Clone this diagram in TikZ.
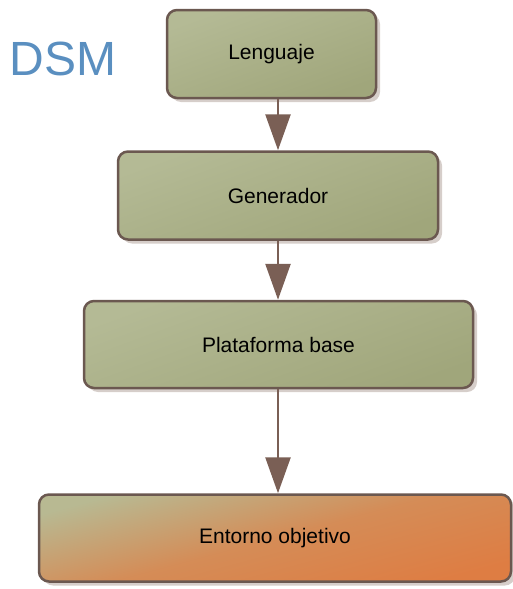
\documentclass[tikz,border=0pt]{standalone}
\usepackage{fontspec}
\setmainfont{Liberation Sans}
\usetikzlibrary{arrows.meta,positioning,shadows}

\definecolor{greenlight}{HTML}{B4BA95}
\definecolor{greendark}{HTML}{A0A67B}
\definecolor{envbeige}{HTML}{B8B992}
\definecolor{envorange}{HTML}{DE7D43}
\definecolor{boxline}{HTML}{6B5850}
\definecolor{arrowbrown}{HTML}{7A5F55}
\definecolor{dsmblue}{HTML}{5A8FC0}
\definecolor{shadowgray}{HTML}{D6CECA}

\begin{document}
\begin{tikzpicture}[
    x=0.5pt, y=-0.5pt,
    layer/.style={draw=boxline, line width=1.25pt, rounded corners=5pt, align=center, inner sep=0pt,
        font=\fontsize{10.5}{12}\selectfont, top color=greenlight, bottom color=greendark, shading angle=20,
        drop shadow={shadow xshift=2pt, shadow yshift=-2pt, fill=shadowgray, opacity=1}},
    target/.style={layer, top color=envbeige, bottom color=envorange, middle color=envorange!75!envbeige, shading angle=15},
    title/.style={inner sep=0pt, text=dsmblue, font=\fontsize{24}{28}\selectfont},
    arrow/.style={-{Triangle[width=12.5pt,length=18pt]}, draw=arrowbrown, line width=1.3pt}
]
    \useasboundingbox (0,0) rectangle (513,589);

    \node[title] (dsm) at (63,59) {DSM};
    \node[layer, minimum width=104.5pt, minimum height=44pt] (lang) at (271.5,54) {Lenguaje};
    \node[layer, minimum width=160pt, minimum height=44pt, below=25.5pt of lang, xshift=3.25pt] (gen) {Generador};
    \node[layer, minimum width=194.5pt, minimum height=43.5pt, below=29.5pt of gen, xshift=0.25pt] (plat) {Plataforma base};
    \node[target, minimum width=236pt, minimum height=43.5pt, below=52pt of plat, xshift=-1.75pt] (env) {Entorno objetivo};

    \draw[arrow] (lang.south -| gen.north) -- (gen.north);
    \draw[arrow] (gen.south) -- (gen.south |- plat.north);
    \draw[arrow] (plat.south -| gen.south) -- (gen.south |- env.north);
\end{tikzpicture}
\end{document}
